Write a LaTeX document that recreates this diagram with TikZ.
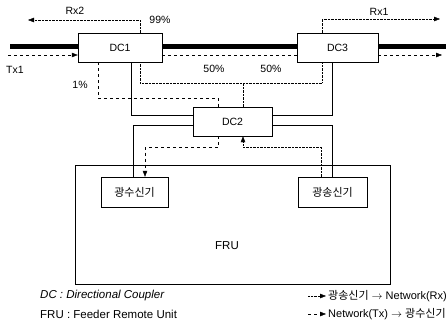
\documentclass[tikz,border=0pt]{standalone}
\usepackage{fontspec}
\setmainfont{Liberation Sans}
\newfontfamily\krfont{Noto Sans CJK KR}
\usetikzlibrary{arrows.meta,calc}

\begin{document}
\begin{tikzpicture}[x=1pt, y=-1pt,
  font=\fontsize{10.5}{12}\selectfont, >={Triangle[length=6pt,width=4.5pt]},
  dcbox/.style={draw, fill=white, minimum width=82pt, minimum height=29pt, inner sep=0pt},
  unitbox/.style={draw, fill=white, minimum width=68pt, minimum height=30pt, inner sep=0pt, font=\krfont\fontsize{11}{13}\selectfont},
  rxline/.style={densely dotted, thin},
  txline/.style={dashed, thin},
  link/.style={thin},
  fibre/.style={line width=5pt},
  note/.style={anchor=west, inner sep=0pt, font=\fontsize{11}{13}\selectfont},
]
  \useasboundingbox (0,0) rectangle (446,327);
  % FRU and the fibre
  \node[draw, minimum width=315pt, minimum height=119pt] (fru) at (232.5,224.5) {};
  \node[font=\fontsize{11.5}{13}\selectfont] (frulabel) at (227,246) {FRU};
  \coordinate (fibreW) at (10,46);
  \coordinate (fibreE) at (446,46);
  \draw[fibre] (fibreW) -- (fibreE);
  % couplers and optical units
  \node[dcbox, minimum width=84pt] (dc1) at (120,47.5) {DC1};
  \node[dcbox, minimum width=81pt] (dc3) at (337.5,47.5) {DC3};
  \node[dcbox, minimum width=79pt] (dc2) at (232.5,121.5) {DC2};
  \node[unitbox, minimum width=67pt] (orx) at (134.5,192) {광수신기};
  \node[unitbox, minimum width=69pt] (otx) at (332.5,192) {광송신기};
  % Tx along the fibre
  \coordinate (txW) at (8,55);
  \coordinate (txE) at (442,55);
  \draw[txline,->] (txW) -- (txW -| dc1.west);
  \draw[txline] (dc1.east |- txW) -- (dc3.west |- txW);
  \draw[txline,->] (dc3.east |- txW) -- (txE);
  % Rx taps
  \coordinate (rx2end) at (28,20);
  \coordinate (rx1end) at (440,19);
  \draw[rxline,->] ([xshift=20pt]dc1.north) |- (rx2end);
  \draw[rxline,->] ([xshift=-15.5pt]dc3.north) |- (rx1end);
  \node (rx2) at (75,11) {Rx2};
  \node (rx1) at (379,12) {Rx1};
  \node (tx1) at (15,70) {Tx1};
  \node (p99) at (160,20) {99\%};
  \node (p1) at (80,85) {1\%};
  \node (p50a) at (214,69) {50\%};
  \node (p50b) at (271,69) {50\%};
  % DC1/DC3 to DC2
  \draw[rxline] ([xshift=10.5pt]dc2.north) -- ++(0,-24) coordinate (split);
  \draw[rxline] (split) -| ([xshift=20pt]dc1.south);
  \draw[rxline] (split) -| ([xshift=-15.5pt]dc3.south);
  \draw[txline] ([xshift=-22pt]dc1.south) -- ++(0,36) -| ([xshift=-14pt]dc2.north);
  \draw[link] ([xshift=11pt]dc1.south) |- ([yshift=6.5pt]dc2.west);
  \draw[link] ([xshift=-5.5pt]dc3.south) |- ([yshift=6.5pt]dc2.east);
  % DC2 to the optical units
  \draw[link] ([yshift=-3.5pt]dc2.west) -| ([xshift=-1.5pt]orx.north);
  \draw[link] ([yshift=-3.5pt]dc2.east) -| (otx.north);
  \draw[txline,->] ([xshift=-14pt]dc2.south) -- ++(0,11) -| ([xshift=10.5pt]orx.north);
  \draw[rxline,->] ([xshift=-11.5pt]otx.north) -- ++(0,-30) -| ([xshift=10.5pt]dc2.south);
  % legend
  \node[note, font=\itshape\fontsize{11.5}{13}\selectfont] (dcnote) at (40,296) {DC : Directional Coupler};
  \node[note, font=\fontsize{11.5}{13}\selectfont] (frunote) at (40,314) {FRU : Feeder Remote Unit};
  \node[note] (rxnote) at (328,296) {{\krfont 광송신기} $\rightarrow$ Network(Rx)};
  \node[note] (txnote) at (328,314) {Network(Tx) $\rightarrow$ {\krfont 광수신기}};
  \coordinate (rxkey) at (308,296);
  \coordinate (txkey) at (308,314);
  \draw[rxline,->] (rxkey) -- ([xshift=-2pt]rxnote.west);
  \draw[txline,->] (txkey) -- ([xshift=-2pt]txnote.west);
\end{tikzpicture}
\end{document}
